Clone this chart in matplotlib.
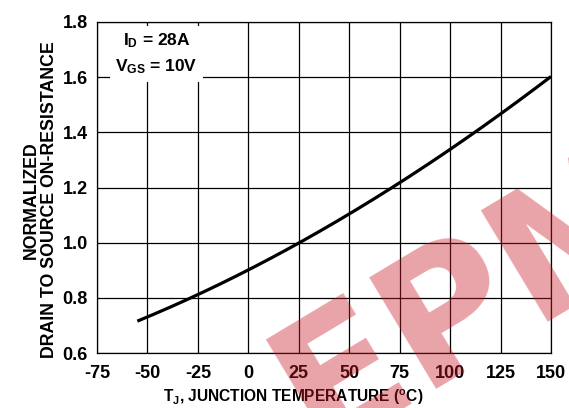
import matplotlib
matplotlib.use("Agg")
import matplotlib.pyplot as plt
import numpy as np

# data
temp_c = [-55, -25, 0, 25, 50, 75, 100, 125, 150]
rds_norm = [0.716, 0.814, 0.894, 1.000, 1.111, 1.216, 1.336, 1.465, 1.604]
x_ticks = [-75, -50, -25, 0, 25, 50, 75, 100, 125, 150]
y_ticks = [0.6, 0.8, 1.0, 1.2, 1.4, 1.6, 1.8]

plt.rcParams['font.family'] = ['Liberation Sans', 'DejaVu Sans']
plt.rcParams['font.weight'] = 'bold'
plt.rcParams['mathtext.fontset'] = 'custom'
plt.rcParams['mathtext.rm'] = 'Liberation Sans:bold'
plt.rcParams['mathtext.it'] = 'Liberation Sans:bold'
plt.rcParams['mathtext.bf'] = 'Liberation Sans:bold'

fig = plt.figure(figsize=(5.69, 4.08), dpi=100)
ax = fig.add_axes([97/569, 1-353/408, (551-97)/569, (353-22)/408])

# smooth curve through read points
xs = np.linspace(min(temp_c), max(temp_c), 300)
coef = np.polyfit(temp_c, rds_norm, 3)
ax.plot(xs, np.polyval(coef, xs), color='black', lw=2.3, zorder=3, solid_capstyle='butt')

ax.set_xlim(-75, 150)
ax.set_ylim(0.6, 1.8)
ax.set_xticks(x_ticks)
ax.set_yticks(y_ticks)
ax.set_xticklabels([str(v) for v in x_ticks])
ax.set_yticklabels([f"{v:.1f}" for v in y_ticks])
ax.tick_params(length=0, labelsize=13)
ax.tick_params(axis='x', pad=9)
ax.tick_params(axis='y', pad=6.5)
for lab in ax.get_xticklabels() + ax.get_yticklabels():
    lab.set_fontweight('bold')
ax.grid(True, color='black', lw=0.9)
for s in ax.spines.values():
    s.set_linewidth(0.9)

ax.set_xlabel(r"T$_\mathregular{J}$, JUNCTION TEMPERATURE ($^\mathregular{o}$C)",
              fontsize=11.2, fontweight='bold')
ax.xaxis.set_label_coords((293 - 97) / 454, -(397 - 353) / 331)
ax.xaxis.label.set_va('center')
ax.set_ylabel("NORMALIZED\nDRAIN TO SOURCE ON-RESISTANCE", fontsize=12.8,
              fontweight='bold', linespacing=1.1)
ax.yaxis.set_label_coords(-(97 - 40.5) / 454, (353 - 200) / 331)
ax.yaxis.label.set_va('center')

ax.text(-45.5, 1.685, "I$_\\mathregular{D}$ = 28A\nV$_\\mathregular{GS}$ = 10V",
        ha='center', va='center', fontsize=12.5, fontweight='bold', linespacing=1.55,
        bbox=dict(facecolor='white', edgecolor='none', pad=4), zorder=4)

# watermark
fig.text(0.835, 0.27, "EPM", rotation=31, fontsize=128, fontweight='heavy',
         family=['DejaVu Sans'],
         color=(0.79, 0.1, 0.15), alpha=0.4, ha='center', va='center', zorder=10)

fig.savefig("out.png", dpi=100)
